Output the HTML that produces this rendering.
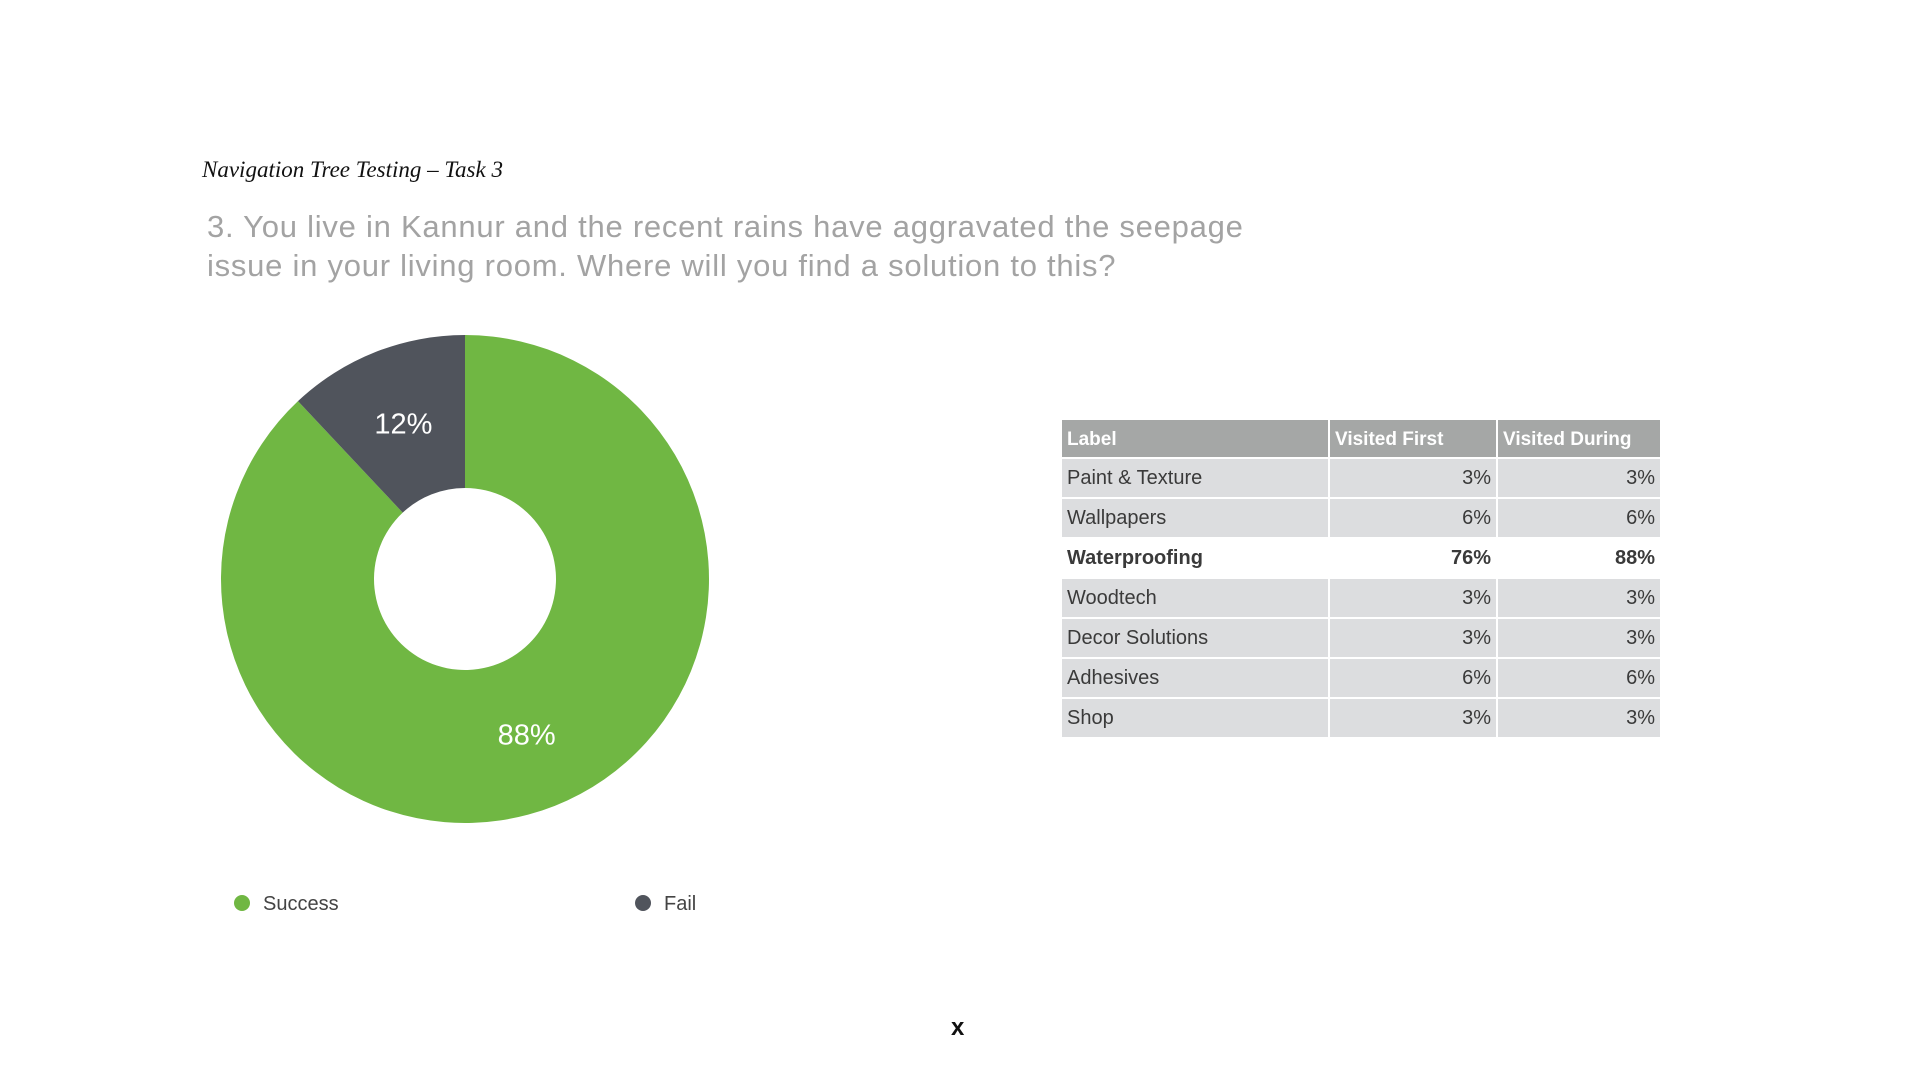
<!DOCTYPE html>
<html><head><meta charset="utf-8">
<style>
body{margin:0;width:1920px;height:1080px;background:#fff;position:relative;overflow:hidden;font-family:"Liberation Sans",sans-serif}
.abs{position:absolute;white-space:nowrap}
table{position:absolute;left:1062px;top:420px;width:600px;border-collapse:collapse;font-size:20px;color:#3a3a3a}
td,th{height:38px;padding:0 5px;border:2px solid #fff;border-top:0;border-left:0;box-sizing:content-box}
th{background:#a5a7a6;color:#fff;text-align:left;font-weight:bold;font-size:19px;height:35px;padding-top:2px}
td{background:#dcdddf;padding-top:0;padding-bottom:0}
td.n{text-align:right}
tr.hl td{background:#fff;font-weight:bold}
</style></head><body>
<div class="abs" style="left:202px;top:157px;font-family:'Liberation Serif',serif;font-style:italic;font-size:23px;color:#111">Navigation Tree Testing – Task 3</div>
<div class="abs" style="left:207px;top:207px;font-size:31px;letter-spacing:0.75px;line-height:39px;color:#a3a3a3">3. You live in Kannur and the recent rains have aggravated the seepage<br>issue in your living room. Where will you find a solution to this?</div>
<svg id="chart" width="1920" height="1080" style="position:absolute;left:0;top:0"></svg>
<table>
<tr><th style="width:256px">Label</th><th style="width:156px">Visited First</th><th>Visited During</th></tr>
<tr><td>Paint &amp; Texture</td><td class="n">3%</td><td class="n">3%</td></tr>
<tr><td>Wallpapers</td><td class="n">6%</td><td class="n">6%</td></tr>
<tr class="hl"><td>Waterproofing</td><td class="n">76%</td><td class="n">88%</td></tr>
<tr><td>Woodtech</td><td class="n">3%</td><td class="n">3%</td></tr>
<tr><td>Decor Solutions</td><td class="n">3%</td><td class="n">3%</td></tr>
<tr><td>Adhesives</td><td class="n">6%</td><td class="n">6%</td></tr>
<tr><td>Shop</td><td class="n">3%</td><td class="n">3%</td></tr>
</table>
<div class="abs" style="left:951px;top:1014px;font-size:24px;font-weight:bold;color:#111">x</div>
<script>
const categories=["Success","Fail"];
const values=[88,12];
const labels=["88%","12%"];
const colors=["#70b743","#50545c"];
const svg=document.getElementById('chart');
const NS='http://www.w3.org/2000/svg';
const cx=465,cy=579,R=244,r=91;
const total=values.reduce((a,b)=>a+b,0);
function pt(a,rad){return [cx+rad*Math.sin(a),cy-rad*Math.cos(a)];}
let start=0;
values.forEach((v,i)=>{
  const sweep=v/total*2*Math.PI;
  const a0=start,a1=start+sweep;
  const large=sweep>Math.PI?1:0;
  const [x0,y0]=pt(a0,R),[x1,y1]=pt(a1,R),[x2,y2]=pt(a1,r),[x3,y3]=pt(a0,r);
  const p=document.createElementNS(NS,'path');
  p.setAttribute('d',`M${x0} ${y0}A${R} ${R} 0 ${large} 1 ${x1} ${y1}L${x2} ${y2}A${r} ${r} 0 ${large} 0 ${x3} ${y3}Z`);
  p.setAttribute('fill',colors[i]);
  
  
  svg.appendChild(p);
  const mid=(a0+a1)/2;
  const [lx,ly]=pt(mid,(R+r)/2);
  const t=document.createElementNS(NS,'text');
  t.setAttribute('x',lx);t.setAttribute('y',ly+10);
  t.setAttribute('text-anchor','middle');t.setAttribute('fill','#fff');
  t.setAttribute('font-size','29');t.setAttribute('font-family','Liberation Sans, sans-serif');
  t.textContent=labels[i];
  
  
  svg.appendChild(t);
  start=a1;
});
const legendX=[242,643];
categories.forEach((c,i)=>{
  const d=document.createElementNS(NS,'circle');
  d.setAttribute('cx',legendX[i]);d.setAttribute('cy',903);d.setAttribute('r',8);d.setAttribute('fill',colors[i]);
  
  
  svg.appendChild(d);
  const t=document.createElementNS(NS,'text');
  t.setAttribute('x',legendX[i]+21);t.setAttribute('y',910);
  t.setAttribute('fill','#444');t.setAttribute('font-size','20');t.setAttribute('font-family','Liberation Sans, sans-serif');
  t.textContent=c;
  
  
  svg.appendChild(t);
});
</script>
</body></html>
